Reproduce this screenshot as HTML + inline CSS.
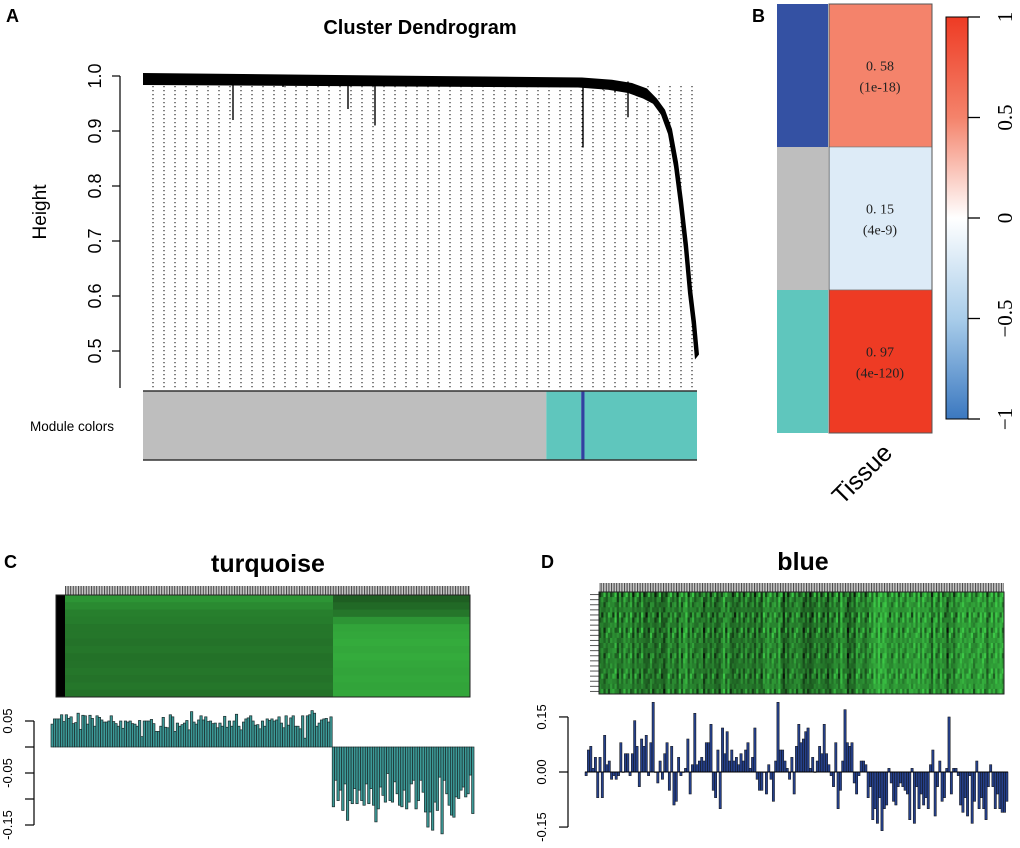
<!DOCTYPE html>
<html><head><meta charset="utf-8"><style>
body{margin:0;background:#fff;}
svg{display:block;font-family:"Liberation Sans",sans-serif;}
</style></head><body>
<svg id="fig" width="1020" height="848" viewBox="0 0 1020 848" xmlns="http://www.w3.org/2000/svg">
<defs>
<pattern id="tickpat" width="2.6" height="10" patternUnits="userSpaceOnUse"><rect width="2.6" height="10" fill="#c8c8c8"/><rect width="1" height="10" fill="#444"/></pattern>
<linearGradient id="cbar" x1="0" y1="0" x2="0" y2="1">
<stop offset="0" stop-color="#ee3b24"/><stop offset="0.25" stop-color="#f4836b"/><stop offset="0.5" stop-color="#ffffff"/><stop offset="0.75" stop-color="#a9cdea"/><stop offset="1" stop-color="#3b78c0"/></linearGradient>
</defs>
<g id="panelA">
<text x="6" y="22" font-size="18" font-weight="bold">A</text>
<text x="420" y="34" font-size="20" font-weight="bold" text-anchor="middle">Cluster Dendrogram</text>
<text transform="translate(46,212) rotate(-90)" font-size="19" text-anchor="middle">Height</text>
<g id="aAxis"></g>
<g id="aDots"></g>
<g id="aTree"></g>
<text x="30" y="431" font-size="13.5">Module colors</text>
<g id="aModules"></g>
</g>
<g id="panelB">
<text x="752" y="22" font-size="18" font-weight="bold">B</text>
<g id="bCells"></g>
<rect x="946" y="17" width="22" height="402" fill="url(#cbar)" stroke="#000" stroke-width="1"/>
<g id="bTicks"></g>
<text transform="translate(868,480) rotate(-45)" font-size="25" text-anchor="middle">Tissue</text>
</g>
<g id="panelC">
<text x="4" y="568" font-size="18" font-weight="bold">C</text>
<text x="268" y="572" font-size="25" font-weight="bold" text-anchor="middle">turquoise</text>
<rect x="65" y="586" width="405" height="9" fill="url(#tickpat)"/>
<rect x="56" y="595" width="9" height="102" fill="#000"/>
<g id="cHeat"></g>
<g id="cBars"></g>
</g>
<g id="panelD">
<text x="541" y="568" font-size="18" font-weight="bold">D</text>
<text x="803" y="570" font-size="25" font-weight="bold" text-anchor="middle">blue</text>
<rect x="599" y="583" width="405" height="9" fill="url(#tickpat)"/>
<g id="dHeat"></g>
<g id="dBars"></g>
</g>
</svg>
<script>
const NS="http://www.w3.org/2000/svg";
// ---- Panel A data ----
const aTicks=[0.5,0.6,0.7,0.8,0.9,1.0];
const aTickLabels=["0.5","0.6","0.7","0.8","0.9","1.0"];
const aHangX=[233,283,348,375,510,540,583,603,615,628];
const aHangH=[0.92,0.98,0.94,0.91,0.98,0.98,0.87,0.975,0.97,0.925];
const aCurveX=[580,610,630,645,655,663,670,676,681,686,690,694,697];
const aCurveH=[0.99,0.986,0.98,0.97,0.955,0.935,0.9,0.84,0.77,0.69,0.61,0.55,0.49];
const aModuleNames=["grey","turquoise","blue","turquoise"];
const aModuleStart=[0,0.728,0.791,0.797];
const aModuleEnd=[0.728,0.791,0.797,1];
// ---- Panel B data ----
const bModules=["blue","grey","turquoise"];
const bCor=[0.58,0.15,0.97];
const bP=["(1e-18)","(4e-9)","(4e-120)"];
const bTicks=[1,0.5,0,-0.5,-1];
const bTickLabels=["1","0.5","0","\u22120.5","\u22121"];
// ---- Panel C data ----
const cPos=[0.044,0.054,0.054,0.054,0.062,0.049,0.062,0.055,0.058,0.045,0.047,0.065,0.034,0.061,0.06,0.044,0.061,0.055,0.04,0.06,0.057,0.052,0.048,0.048,0.05,0.06,0.049,0.045,0.04,0.05,0.036,0.05,0.048,0.05,0.045,0.044,0.04,0.051,0.02,0.05,0.05,0.05,0.053,0.045,0.03,0.03,0.04,0.057,0.038,0.037,0.062,0.058,0.03,0.046,0.04,0.043,0.046,0.051,0.033,0.068,0.048,0.044,0.052,0.06,0.052,0.058,0.049,0.05,0.045,0.046,0.037,0.046,0.04,0.059,0.038,0.05,0.04,0.05,0.063,0.04,0.033,0.048,0.054,0.056,0.06,0.05,0.042,0.043,0.035,0.05,0.04,0.054,0.051,0.054,0.05,0.052,0.058,0.046,0.037,0.06,0.042,0.056,0.06,0.04,0.04,0.035,0.06,0.017,0.06,0.062,0.07,0.065,0.04,0.046,0.052,0.054,0.055,0.048,0.058];
const cNeg=[-0.115,-0.064,-0.103,-0.083,-0.122,-0.071,-0.141,-0.103,-0.109,-0.08,-0.109,-0.083,-0.103,-0.112,-0.071,-0.109,-0.08,-0.112,-0.144,-0.119,-0.077,-0.093,-0.106,-0.051,-0.103,-0.106,-0.067,-0.09,-0.112,-0.115,-0.083,-0.119,-0.106,-0.071,-0.064,-0.119,-0.103,-0.064,-0.087,-0.125,-0.154,-0.125,-0.16,-0.106,-0.122,-0.058,-0.167,-0.064,-0.09,-0.112,-0.131,-0.135,-0.096,-0.099,-0.083,-0.077,-0.096,-0.09,-0.054,-0.128];
const cTicks=[0.05,0,-0.05,-0.1,-0.15];
const cTickLabels=["0.05","","-0.05","","-0.15"];
const cRowLeft=[0.72,0.66,0.6,0.58,0.55,0.55,0.53,0.55,0.52,0.53,0.55,0.53,0.55,0.53];
const cRowRight=[0.42,0.48,0.55,0.72,0.8,0.82,0.84,0.82,0.84,0.82,0.8,0.82,0.8,0.82];
// ---- Panel D data ----
const dVals=[-0.01,0.06,0.07,0.01,0.04,-0.07,0.04,-0.07,0.1,0.02,0.03,-0.02,-0.01,-0.02,-0.01,0.08,0,0.05,0.05,-0.01,0.05,0.14,0.07,-0.04,0.09,0.07,0.1,-0.01,0.08,0.19,0,-0.03,0.03,-0.02,0.05,0.08,-0.05,0.07,-0.09,-0.08,0.04,-0.01,0,0.01,0.09,-0.06,0.02,0.16,0.02,0.03,0.04,0.03,0.08,0.08,0.13,-0.05,-0.07,0.06,-0.1,0.12,0.05,0.11,0.03,0.06,0.03,0.04,0.02,0.05,0.03,0.06,0.08,0.01,0.04,0.12,-0.02,-0.05,-0.05,0,-0.06,0.02,-0.02,-0.08,0.03,0.19,0.06,0.06,0.03,0.01,-0.02,0.04,-0.06,0.07,0.13,0.08,0.09,0.11,0.12,0.01,0.04,0,0.03,0.07,0.05,0.13,0.05,0.02,-0.01,-0.04,0.08,-0.1,-0.05,0.03,0.17,0.08,0.07,0.08,-0.03,-0.06,-0.01,0.03,0.03,0.02,-0.07,-0.04,-0.13,-0.1,-0.14,-0.07,-0.16,-0.1,-0.09,0.01,-0.03,-0.08,-0.09,-0.04,-0.03,-0.04,-0.05,-0.06,-0.13,0.01,-0.14,-0.04,-0.1,-0.06,-0.09,-0.07,-0.1,0.02,0.06,-0.12,-0.04,0.03,-0.08,-0.07,0.01,0.15,-0.06,0.01,0.01,-0.01,-0.09,-0.11,-0.07,-0.12,-0.01,-0.14,-0.08,0.03,-0.1,-0.07,-0.1,-0.13,-0.04,0.02,-0.04,-0.1,-0.06,-0.1,-0.11,-0.11,-0.08];
const dTicks=[0.15,0,-0.15];
const dTickLabels=["0.15","0.00","-0.15"];
const dRows=[0.1,-0.05,0.05,0,-0.08,0.06,-0.02,0.08,-0.06,0.02,0.04,-0.04,0.07,-0.03,0.01,0.05,-0.07,0.03,0,0.06];

function mk(tag,attrs,parent){const e=document.createElementNS(NS,tag);for(const k in attrs)e.setAttribute(k,attrs[k]);parent.appendChild(e);return e;}
function G(id){return document.getElementById(id);}

// ===== Panel A =====
const aY=v=>76+(1-v)*550;
const aX0=143,aX1=697;
const aX=f=>aX0+f*(aX1-aX0);
{
 const g=G('aAxis');
 let l=mk('line',{x1:120,x2:120,y1:aY(1.0),y2:388,stroke:'#000','stroke-width':1.2},g);
 
 aTicks.forEach((t,i)=>{
  let tk=mk('line',{x1:112,x2:120,y1:aY(t),y2:aY(t),stroke:'#000','stroke-width':1.2},g);
  
  let tx=mk('text',{transform:`translate(101,${aY(t)}) rotate(-90)`,'font-size':18,'text-anchor':'middle'},g);
  tx.textContent=aTickLabels[i];
  
 });
 const gd=G('aDots');
 for(let x=153;x<=697;x+=11){
  let d=mk('line',{x1:x,x2:x,y1:86,y2:388,stroke:'#000','stroke-width':1,'stroke-dasharray':'1.3 2.7'},gd);
  
 }
 const gt=G('aTree');
 let top=[[aX0,73]];
 aCurveX.forEach((x,i)=>top.push([x+2,aY(aCurveH[i])-(i<4?4:2)]));
 let back=[];
 aCurveX.forEach((x,i)=>back.push([x-2,aY(aCurveH[i])+(i<4?6:3)]));
 back.reverse();
 let pts=top.concat(back);pts.push([aX0,85]);
 let band=mk('polygon',{points:pts.map(p=>p.join(',')).join(' '),fill:'#000'},gt);
 
 aHangX.forEach((x,i)=>{
  let h=mk('line',{x1:x,x2:x,y1:aY(0.99),y2:aY(aHangH[i]),stroke:'#000','stroke-width':1.4},gt);
  
 });
 const gm=G('aModules');
 const colorMap={grey:'#bebebe',turquoise:'#5fc6bd',blue:'#3140a0'};
 aModuleNames.forEach((n,i)=>{
  let r=mk('rect',{x:aX(aModuleStart[i]),y:391,width:aX(aModuleEnd[i])-aX(aModuleStart[i]),height:69,fill:colorMap[n]},gm);
  
 });
 let t1=mk('line',{x1:aX0,x2:aX1,y1:391,y2:391,stroke:'#333','stroke-width':1.5},gm);
 
 let t2=mk('line',{x1:aX0,x2:aX1,y1:460,y2:460,stroke:'#333','stroke-width':1.5},gm);
 
}

// ===== Panel B =====
{
 const g=G('bCells');
 const top=4,bot=433,rh=(bot-top)/bModules.length;
 const modCol={blue:'#3451a3',grey:'#bebebe',turquoise:'#5fc6bd'};
 function corColor2(v){
  if(v>=0.9) return '#ee3b24';
  if(v>=0.5) return '#f4836b';
  return '#ddebf7';
 }
 bModules.forEach((m,i)=>{
  const y=top+i*rh;
  let r=mk('rect',{x:777,y:y,width:51,height:rh,fill:modCol[m]},g);
  
  let c=mk('rect',{x:829,y:y,width:103,height:rh,fill:corColor2(bCor[i]),stroke:'#777','stroke-width':0.6},g);
  
  let t=mk('text',{x:880,y:y+rh/2-5,'font-size':14,'text-anchor':'middle','font-family':'"Liberation Serif","Noto Serif CJK SC",serif',fill:'#222'},g);
  t.textContent=bCor[i].toFixed(2).replace('.','. ');
  
  let p=mk('text',{x:880,y:y+rh/2+16,'font-size':14,'text-anchor':'middle','font-family':'"Liberation Serif","Noto Serif CJK SC",serif',fill:'#222'},g);
  p.textContent=bP[i];
  
 });
 let o=mk('rect',{x:829,y:top,width:103,height:bot-top,fill:'none',stroke:'#555','stroke-width':1},g);
 
 const gt=G('bTicks');
 const cy=v=>218-v*201;
 bTicks.forEach((t,i)=>{
  let l=mk('line',{x1:968,x2:980,y1:cy(t),y2:cy(t),stroke:'#000','stroke-width':1.3},gt);
  
  let tx=mk('text',{transform:`translate(1012,${cy(t)}) rotate(-90)`,'font-size':21,'text-anchor':'middle','font-family':'"Liberation Serif","Noto Serif CJK SC",serif'},gt);
  tx.textContent=bTickLabels[i];
  
 });
}

// ===== Generic bar axis =====
function barAxis(g,axisX,zeroY,pxPerUnit,ticks,labels,name){
 const y=v=>zeroY-v*pxPerUnit;
 let l=mk('line',{x1:axisX,x2:axisX,y1:y(ticks[0]),y2:y(ticks[ticks.length-1]),stroke:'#000','stroke-width':1.2},g);
 
 ticks.forEach((t,i)=>{
  let tk=mk('line',{x1:axisX-9,x2:axisX,y1:y(t),y2:y(t),stroke:'#000','stroke-width':1.2},g);
  
  if(labels[i]){
   let tx=mk('text',{transform:`translate(${axisX-22},${y(t)}) rotate(-90)`,'font-size':13,'text-anchor':'middle'},g);
   tx.textContent=labels[i];
   
  }
 });
 return y;
}
function green(v){v=Math.max(0,Math.min(1,v));return `rgb(${Math.round(8+52*v)},${Math.round(18+182*v)},${Math.round(8+62*v)})`;}

// ===== Panel C =====
{
 const gh=G('cHeat');
 const x0=65,xm=333,x1=470,y0=595,y1=697;
 const rh=(y1-y0)/cRowLeft.length;
 cRowLeft.forEach((v,i)=>{
  let r=mk('rect',{x:x0,y:y0+i*rh,width:xm-x0,height:rh+0.5,fill:green(v)},gh);
  
 });
 cRowRight.forEach((v,i)=>{
  let r=mk('rect',{x:xm,y:y0+i*rh,width:x1-xm,height:rh+0.5,fill:green(v)},gh);
  
 });
 let b=mk('rect',{x:56,y:y0,width:x1-56,height:y1-y0,fill:'none',stroke:'#222','stroke-width':1},gh);
 
 const gb=G('cBars');
 const y=barAxis(gb,34,747,520,cTicks,cTickLabels,'turquoise');
 const vals=cPos.concat(cNeg);
 const bx0=51,bx1=474,bw=(bx1-bx0)/vals.length;
 vals.forEach((v,i)=>{
  const ya=y(v),yz=y(0);
  let r=mk('rect',{x:bx0+i*bw,y:Math.min(ya,yz),width:bw,height:Math.abs(ya-yz),fill:'#3c9a98',stroke:'#1b2b2b','stroke-width':0.7},gb);
  
 });
}

// ===== Panel D =====
{
 const gh=G('dHeat');
 const x0=599,x1=1004,y0=592,y1=694;
 const nc=dVals.length,cw=(x1-x0)/nc,rh=(y1-y0)/dRows.length;
 dRows.forEach((rv,j)=>{
  let t=mk('line',{x1:590,x2:599,y1:y0+(j+0.5)*rh,y2:y0+(j+0.5)*rh,stroke:'#555','stroke-width':1},gh);
  
  dVals.forEach((cv,i)=>{
   const v=0.62-cv*1.8+rv*((i*7+j*3)%5-2)*2.2;
   let r=mk('rect',{x:x0+i*cw,y:y0+j*rh,width:cw+0.4,height:rh+0.4,fill:green(v)},gh);
   
  });
 });
 let b=mk('rect',{x:x0,y:y0,width:x1-x0,height:y1-y0,fill:'none',stroke:'#222','stroke-width':1},gh);
 
 const gb=G('dBars');
 const y=barAxis(gb,568,772,367,dTicks,dTickLabels,'blue');
 const bx0=585,bx1=1008,bw=(bx1-bx0)/dVals.length;
 dVals.forEach((v,i)=>{
  const ya=y(v),yz=y(0);
  let r=mk('rect',{x:bx0+i*bw,y:Math.min(ya,yz),width:bw,height:Math.max(0.5,Math.abs(ya-yz)),fill:'#25408a',stroke:'#111','stroke-width':0.5},gb);
  
 });
 let z=mk('line',{x1:bx0,x2:bx1,y1:y(0),y2:y(0),stroke:'#000','stroke-width':1},gb);
 
}
</script>
</body></html>
